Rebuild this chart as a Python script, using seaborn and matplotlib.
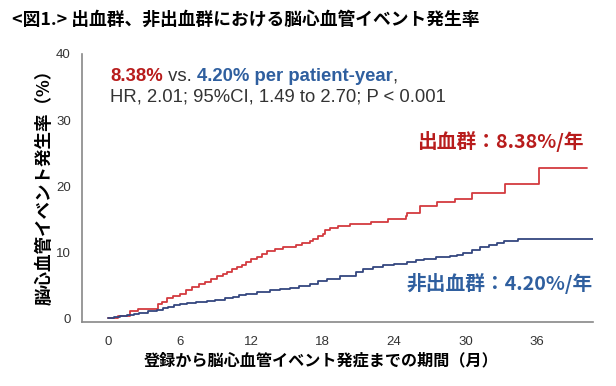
import matplotlib
matplotlib.use("Agg")
import matplotlib.pyplot as plt
import seaborn as sns
import pandas as pd

# ---- data ----
red_months = [0, 0.8, 1.8, 2.5, 4.2, 4.5, 4.9, 5.4, 6.0, 6.5, 7.0, 7.6, 8.1, 8.6, 9.1,
              9.6, 10.0, 10.4, 10.8, 11.2, 11.6, 12.0, 12.5, 12.9, 13.3, 14.0, 14.7,
              15.8, 16.3, 16.9, 17.2, 17.6, 18.0, 18.2, 18.6, 19.3, 20.3, 22.1, 23.5,
              25.0, 25.1, 26.2, 27.6, 29.1, 30.5, 33.3, 36.2, 40.2]
red_values = [0, 0.3, 1.0, 1.4, 2.1, 2.5, 3.0, 3.3, 3.7, 4.2, 4.7, 5.1, 5.5, 5.9, 6.3,
              6.6, 7.0, 7.4, 7.8, 8.1, 8.5, 8.9, 9.3, 9.7, 10.1, 10.4, 10.8,
              11.1, 11.3, 11.6, 11.9, 12.4, 12.8, 13.3, 13.6, 13.9, 14.2, 14.6, 15.0,
              15.5, 15.9, 16.9, 17.6, 18.1, 18.9, 20.3, 22.7, 22.7]
blue_months = [0, 0.5, 1.0, 1.6, 2.2, 2.6, 3.3, 4.1, 4.6, 5.0, 5.5, 6.0, 6.6, 7.4, 8.3,
               9.0, 9.8, 10.5, 11.0, 11.6, 12.5, 13.6, 14.4, 15.3, 16.0, 16.9, 17.6,
               18.4, 19.5, 20.3, 20.8, 21.4, 22.2, 23.1, 24.0, 25.1, 25.8, 26.5, 27.5,
               28.7, 29.3, 29.8, 30.5, 31.2, 32.0, 32.6, 33.2, 34.4, 40.7]
blue_values = [0, 0.2, 0.3, 0.45, 0.6, 0.8, 1.0, 1.2, 1.5, 1.7, 2.0, 2.15, 2.3, 2.45, 2.6,
               2.75, 3.0, 3.2, 3.45, 3.7, 3.9, 4.2, 4.35, 4.5, 4.8, 5.2, 5.6,
               5.9, 6.3, 6.4, 7.0, 7.5, 7.7, 8.0, 8.2, 8.5, 8.75, 9.0, 9.2,
               9.4, 9.6, 9.9, 10.3, 10.8, 11.1, 11.3, 11.6, 11.9, 11.9]
groups = ["出血群", "非出血群"]
x_ticks = [0, 6, 12, 18, 24, 30, 36]
y_ticks = [0, 10, 20, 30, 40]

title = "<図1.> 出血群、非出血群における脳心血管イベント発生率"
ylabel = "脳心血管イベント発生率（%）"
xlabel = "登録から脳心血管イベント発症までの期間（月）"
red_label = "出血群：8.38%/年"
blue_label = "非出血群：4.20%/年"

RED_LINE = "#d33a3f"
BLUE_LINE = "#34467f"
RED_TXT = "#b81c1c"
BLUE_TXT = "#2f5f9f"
GRAY_TXT = "#333333"

df = pd.concat([
    pd.DataFrame({"month": red_months, "rate": red_values, "group": groups[0]}),
    pd.DataFrame({"month": blue_months, "rate": blue_values, "group": groups[1]}),
])

sns.set_style("white")
CJK = ["Noto Sans CJK JP", "DejaVu Sans"]
LAT = ["Liberation Sans", "DejaVu Sans"]
plt.rcParams["font.family"] = CJK

W, H = 616, 386
fig = plt.figure(figsize=(W / 100, H / 100), dpi=100)
ax = fig.add_axes([82 / W, 1 - 322 / H, (593 - 82) / W, (322 - 54) / H])

sns.lineplot(data=df, x="month", y="rate", hue="group", estimator=None,
             palette={groups[0]: RED_LINE, groups[1]: BLUE_LINE},
             drawstyle="steps-post", linewidth=1.3, legend=False, ax=ax)

ax.set_xlim(-2.2, 40.7)
ax.set_ylim(-0.6, 40)
ax.set_xticks(x_ticks)
ax.set_yticks(y_ticks)
ax.set_xticklabels([str(t) for t in x_ticks], fontfamily=LAT, fontsize=9.5, color=GRAY_TXT)
ax.set_yticklabels([str(t) for t in y_ticks], fontfamily=LAT, fontsize=9.5, color=GRAY_TXT)
ax.tick_params(axis="both", direction="out", length=4, width=1, color="#777777", pad=4)
ax.tick_params(axis="x", pad=6)
for s in ["top", "right"]:
    ax.spines[s].set_visible(False)
for s in ["left", "bottom"]:
    ax.spines[s].set_color("#888888")
    ax.spines[s].set_linewidth(1.2)
ax.set_xlabel("")
ax.set_ylabel("")

# titles and labels
fig.text(12 / W, 1 - 20 / H, title, fontsize=12.8, fontweight="bold",
         ha="left", va="center", color="black", family=CJK)
fig.text(45 / W, 1 - 183 / H, ylabel, fontsize=12.6, fontweight="bold", rotation=90,
         ha="center", va="center", color="black", family=CJK)
fig.text(321 / W, 1 - 360 / H, xlabel, fontsize=11.6, fontweight="bold",
         ha="center", va="center", color="black", family=CJK)

fig.text(500 / W, 1 - 142 / H, red_label, fontsize=14.2, fontweight="bold",
         ha="center", va="center", color=RED_TXT, family=CJK)
fig.text(500 / W, 1 - 283 / H, blue_label, fontsize=14.2, fontweight="bold",
         ha="center", va="center", color=BLUE_TXT, family=CJK)

# stats annotation
fs = 13.3
t1 = fig.text(110 / W, 1 - 81 / H, "8.38%", fontsize=fs, fontweight="bold",
              color=RED_TXT, family=LAT, va="baseline")
t2 = ax.annotate(" vs. ", xy=(1, 0), xycoords=t1, fontsize=fs, color=GRAY_TXT,
                 family=LAT, va="bottom")
t3 = ax.annotate("4.20% per patient-year", xy=(1, 0), xycoords=t2, fontsize=fs,
                 fontweight="bold", color=BLUE_TXT, family=LAT, va="bottom")
ax.annotate(",", xy=(1, 0), xycoords=t3, fontsize=fs, color=GRAY_TXT,
            family=LAT, va="bottom")
fig.text(110 / W, 1 - 101 / H, "HR, 2.01; 95%CI, 1.49 to 2.70; P < 0.001",
         fontsize=fs, color=GRAY_TXT, family=LAT, va="baseline")

fig.savefig("out.png", dpi=100)
